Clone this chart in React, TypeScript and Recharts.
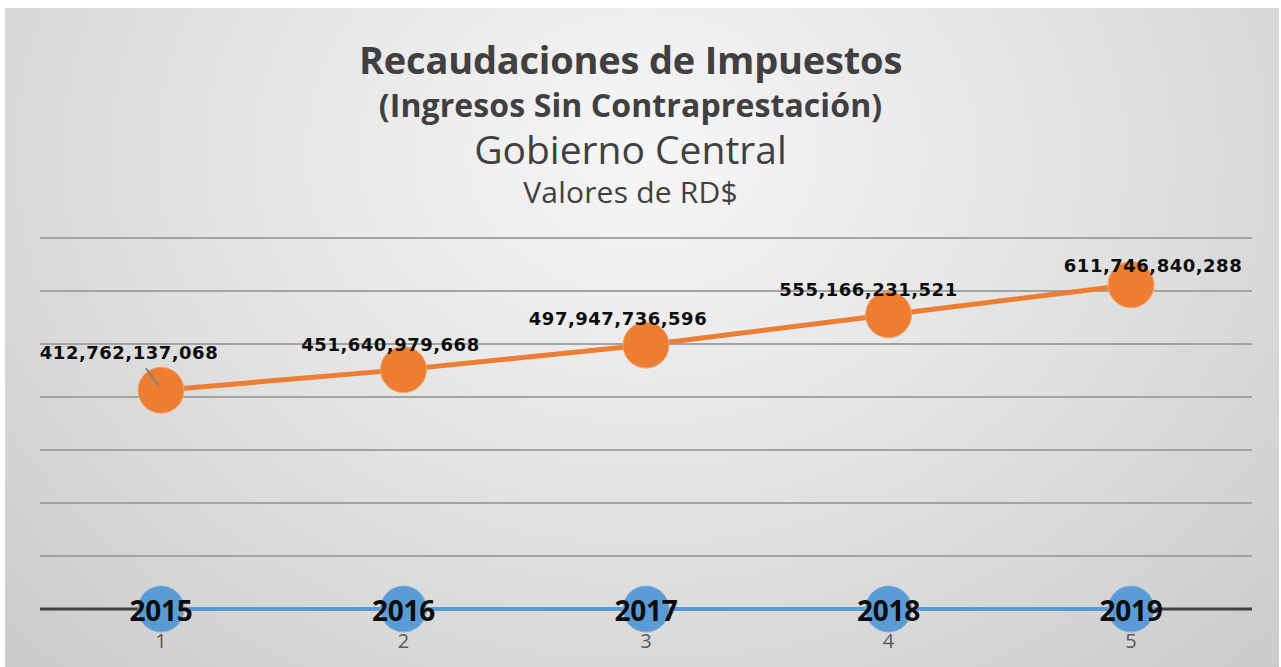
import { LineChart, Line, XAxis, YAxis, CartesianGrid, LabelList } from 'recharts';

const categories = [1, 2, 3, 4, 5];
const years = [2015, 2016, 2017, 2018, 2019];
const recaudaciones = [412762137068, 451640979668, 497947736596, 555166231521, 611746840288];
const yTicks = [0, 100e9, 200e9, 300e9, 400e9, 500e9, 600e9, 700e9];

// label nudges (dx, dy) relative to each point, like the hand-placed labels in the original
const labelOffsets = [
  [-32, -38],
  [-13, -25],
  [-28, -27],
  [-20, -25],
  [22, -19],
];

const data = categories.map((c, i) => ({
  cat: c,
  anio: years[i],
  monto: recaudaciones[i],
}));

const W = 1281;
const H = 667;

const renderMontoLabel = (props: any) => {
  const { x, y, value, index } = props;
  const [dx, dy] = labelOffsets[index] || [0, -25];
  return (
    <g>
      {index === 0 && (
        <line x1={x - 15} y1={y - 22} x2={x - 3} y2={y - 5} stroke="#7f7f7f" strokeWidth={2} />
      )}
      <text
        x={x + dx}
        y={y + dy}
        textAnchor="middle"
        dominantBaseline="central"
        fontFamily="'DejaVu Sans', sans-serif"
        fontWeight="bold"
        fontSize={18}
        letterSpacing={0.5}
        fill="#0d0d0d"
      >
        {Number(value).toLocaleString('en-US')}
      </text>
    </g>
  );
};

const renderAnioLabel = (props: any) => {
  const { x, y, value } = props;
  return (
    <text
      x={x}
      y={y + 1}
      textAnchor="middle"
      dominantBaseline="central"
      fontFamily="'Open Sans', sans-serif"
      fontWeight="bold"
      fontSize={28}
      letterSpacing={-0.3}
      fill="#0d0d0d"
    >
      {value}
    </text>
  );
};

export default function App() {
  const titleBase: React.CSSProperties = {
    position: 'absolute',
    left: -10,
    width: W,
    textAlign: 'center',
    color: '#404040',
    fontFamily: "'Open Sans', sans-serif",
    lineHeight: 1,
    whiteSpace: 'nowrap',
  };

  return (
    <div style={{ position: 'absolute', left: 0, top: 0, width: W, height: H, background: '#ffffff' }}>
      <div
        style={{
          position: 'absolute',
          left: 5,
          top: 8,
          width: W - 7,
          height: H - 8,
          background: 'radial-gradient(ellipse at 50% 22%, #f6f6f6 0%, #e4e4e4 45%, #cbcbcb 100%)',
        }}
      />
      <div style={{ ...titleBase, top: 40, fontSize: 38, fontWeight: 700, letterSpacing: -0.2 }}>
        Recaudaciones de Impuestos
      </div>
      <div style={{ ...titleBase, top: 89, fontSize: 32, fontWeight: 700, letterSpacing: 0.1 }}>
        (Ingresos Sin Contraprestación)
      </div>
      <div style={{ ...titleBase, top: 129, fontSize: 39, fontWeight: 400, letterSpacing: 0 }}>
        Gobierno Central
      </div>
      <div style={{ ...titleBase, top: 177, fontSize: 30, fontWeight: 400, letterSpacing: 0.2 }}>
        Valores de RD$
      </div>
      <div style={{ position: 'absolute', left: 0, top: 0 }}>
        <LineChart
          width={W}
          height={H}
          data={data}
          margin={{ top: 238, right: 29, bottom: 0, left: 40 }}
        >
          <CartesianGrid vertical={false} stroke="#a3a3a3" strokeWidth={2} />
          <XAxis
            dataKey="cat"
            height={58}
            padding={{ left: 121, right: 121 }}
            axisLine={{ stroke: '#404040', strokeWidth: 3 }}
            tickLine={false}
            tickMargin={19}
            tick={{ fill: '#595959', fontSize: 20, fontFamily: "'Open Sans', sans-serif" }}
            zIndex={-50}
          />
          <YAxis hide domain={[0, 700e9]} ticks={yTicks} />
          <Line
            dataKey="anio"
            stroke="#5b9bd5"
            strokeWidth={4}
            dot={{ r: 23, fill: '#5b9bd5', stroke: '#7fb0df', strokeWidth: 1 }}
            isAnimationActive={false}
          >
            <LabelList dataKey="anio" content={renderAnioLabel} />
          </Line>
          <Line
            dataKey="monto"
            stroke="#ed7d31"
            strokeWidth={5}
            dot={{ r: 23, fill: '#ed7d31', stroke: '#f4a46e', strokeWidth: 1 }}
            isAnimationActive={false}
          >
            <LabelList dataKey="monto" content={renderMontoLabel} />
          </Line>
        </LineChart>
      </div>
    </div>
  );
}
